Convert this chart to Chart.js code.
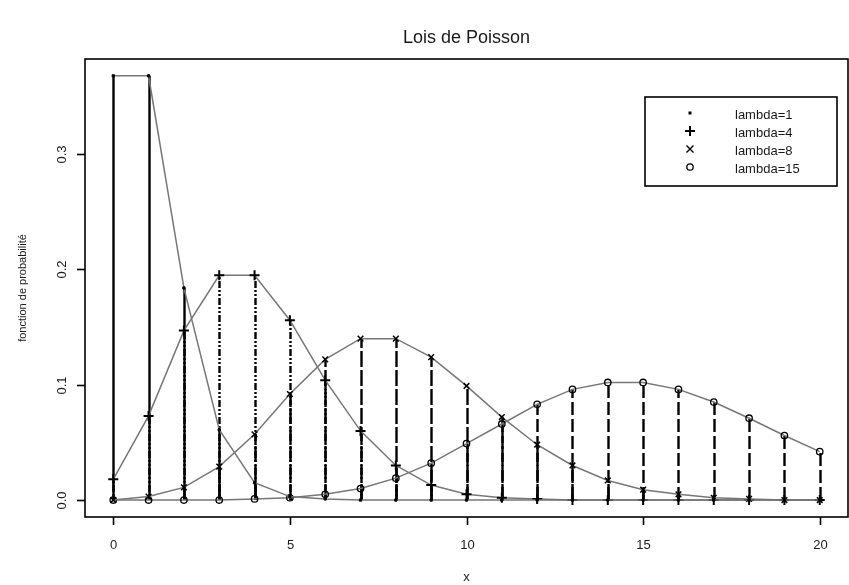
<!DOCTYPE html>
<html lang="fr">
<head>
<meta charset="UTF-8">
<title>Lois de Poisson</title>
<script src="https://cdn.jsdelivr.net/npm/chart.js"></script>
<style>
  html, body { margin: 0; padding: 0; background: #fff; overflow: hidden; }
  #wrap { width: 849px; height: 585px; position: relative; }
  #poisson { display: block; }
</style>
</head>
<body>
<div id="wrap"><canvas id="poisson"></canvas></div>
<script>
// values, x = 0..20
const xs = [0, 1, 2, 3, 4, 5, 6, 7, 8, 9, 10, 11, 12, 13, 14, 15, 16, 17, 18, 19, 20];
const lambda1 = [0.368, 0.368, 0.184, 0.061, 0.015, 0.003, 0.001, 0, 0, 0, 0, 0, 0, 0, 0, 0, 0, 0, 0, 0, 0];
const lambda4 = [0.018, 0.073, 0.147, 0.195, 0.195, 0.156, 0.104, 0.060, 0.030, 0.013, 0.005, 0.002, 0.001, 0, 0, 0, 0, 0, 0, 0, 0];
const lambda8 = [0.000, 0.003, 0.011, 0.029, 0.057, 0.092, 0.122, 0.140, 0.140, 0.124, 0.099, 0.072, 0.048, 0.030, 0.017, 0.009, 0.005, 0.002, 0.001, 0.000, 0.000];
const lambda15 = [0.000, 0.000, 0.000, 0.000, 0.001, 0.002, 0.005, 0.010, 0.019, 0.032, 0.049, 0.066, 0.083, 0.096, 0.102, 0.102, 0.096, 0.085, 0.071, 0.056, 0.042];
const seriesLabels = ['lambda=1', 'lambda=4', 'lambda=8', 'lambda=15'];
const xTicks = [0, 5, 10, 15, 20];
const yTicks = [0, 0.1, 0.2, 0.3];
const yTickLabels = ['0.0', '0.1', '0.2', '0.3'];

const FONT = '"Liberation Sans", Arial, sans-serif';
const TXT = '#1a1a1a';

function pts(vals) {
  return xs.map((x, i) => ({ x: x, y: vals[i] }));
}

// marker styles, same as R pch ".", "+", "x", "o"
const markers = [
  { pointStyle: 'rect', pointRadius: 1.6, pointBorderWidth: 1, pointBackgroundColor: '#000' },
  { pointStyle: 'cross', pointRadius: 5, pointBorderWidth: 2, pointBackgroundColor: '#000' },
  { pointStyle: 'crossRot', pointRadius: 4, pointBorderWidth: 1.5, pointBackgroundColor: '#000' },
  { pointStyle: 'circle', pointRadius: 3.2, pointBorderWidth: 1.3, pointBackgroundColor: 'rgba(255,255,255,0)' }
];
// vertical spike dashes (type = "h")
const spikeDash = [[], [2, 2, 2, 2, 7, 2], [16, 3], [13, 4]];

const allSeries = [lambda1, lambda4, lambda8, lambda15];

const datasets = allSeries.map((vals, i) => Object.assign({
  label: seriesLabels[i],
  data: pts(vals),
  borderColor: '#777',
  borderWidth: 1.5,
  pointBorderColor: '#000',
  tension: 0,
  spikeDash: spikeDash[i]
}, markers[i]));

// vertical lines from 0 to each value
const spikes = {
  id: 'spikes',
  beforeDatasetsDraw(chart) {
    const ctx = chart.ctx;
    const xs_ = chart.scales.x, ys_ = chart.scales.y;
    const y0 = ys_.getPixelForValue(0);
    ctx.save();
    ctx.strokeStyle = '#000';
    ctx.lineWidth = 2.4;
    chart.data.datasets.forEach(ds => {
      ctx.setLineDash(ds.spikeDash);
      ds.data.forEach(p => {
        const px = Math.round(xs_.getPixelForValue(p.x)) + 0.5;
        ctx.beginPath();
        ctx.moveTo(px, y0);
        ctx.lineTo(px, ys_.getPixelForValue(p.y));
        ctx.stroke();
      });
    });
    ctx.restore();
  }
};

function drawMarker(ctx, i, x, y) {
  ctx.save();
  ctx.strokeStyle = '#000';
  ctx.fillStyle = '#000';
  ctx.beginPath();
  if (i === 0) {
    ctx.fillRect(x - 1.5, y - 1.5, 3, 3);
  } else if (i === 1) {
    ctx.lineWidth = 2;
    ctx.moveTo(x - 5, y); ctx.lineTo(x + 5, y);
    ctx.moveTo(x, y - 5); ctx.lineTo(x, y + 5);
    ctx.stroke();
  } else if (i === 2) {
    ctx.lineWidth = 1.4;
    ctx.moveTo(x - 3.5, y - 3.5); ctx.lineTo(x + 3.5, y + 3.5);
    ctx.moveTo(x - 3.5, y + 3.5); ctx.lineTo(x + 3.5, y - 3.5);
    ctx.stroke();
  } else {
    ctx.lineWidth = 1.3;
    ctx.arc(x, y, 3.2, 0, Math.PI * 2);
    ctx.stroke();
  }
  ctx.restore();
}

// R style frame, ticks, labels, title and legend
const rFrame = {
  id: 'rFrame',
  afterDraw(chart) {
    const ctx = chart.ctx;
    const a = chart.chartArea;
    const sx = chart.scales.x, sy = chart.scales.y;
    ctx.save();
    ctx.strokeStyle = '#000';
    ctx.lineWidth = 1.6;
    ctx.strokeRect(a.left, a.top, a.right - a.left, a.bottom - a.top);

    ctx.fillStyle = TXT;
    ctx.font = '13px ' + FONT;
    // x axis
    ctx.textAlign = 'center';
    ctx.textBaseline = 'middle';
    xTicks.forEach(t => {
      const px = Math.round(sx.getPixelForValue(t)) + 0.5;
      ctx.beginPath();
      ctx.moveTo(px, a.bottom);
      ctx.lineTo(px, a.bottom + 8);
      ctx.stroke();
      ctx.fillText(String(t), px, a.bottom + 28);
    });
    ctx.fillText('x', (a.left + a.right) / 2, a.bottom + 60);
    // y axis
    yTicks.forEach((t, i) => {
      const py = Math.round(sy.getPixelForValue(t)) + 0.5;
      ctx.beginPath();
      ctx.moveTo(a.left, py);
      ctx.lineTo(a.left - 8, py);
      ctx.stroke();
      ctx.save();
      ctx.translate(a.left - 23, py);
      ctx.rotate(-Math.PI / 2);
      ctx.fillText(yTickLabels[i], 0, 0);
      ctx.restore();
    });
    ctx.save();
    ctx.font = '11px ' + FONT;
    ctx.translate(a.left - 62, (a.top + a.bottom) / 2);
    ctx.rotate(-Math.PI / 2);
    ctx.fillText('fonction de probabilité', 0, 0);
    ctx.restore();
    // title
    ctx.font = '18px ' + FONT;
    ctx.fillText('Lois de Poisson', (a.left + a.right) / 2, 38);

    // legend
    const lx = 645, ly = 97, lw = 192, lh = 89;
    ctx.fillStyle = '#fff';
    ctx.fillRect(lx, ly, lw, lh);
    ctx.lineWidth = 1.6;
    ctx.strokeRect(lx, ly, lw, lh);
    ctx.font = '13px ' + FONT;
    ctx.textAlign = 'left';
    ctx.fillStyle = TXT;
    seriesLabels.forEach((lab, i) => {
      const ry = ly + 18 + i * 18;
      drawMarker(ctx, i, lx + 45, ry - 2);
      ctx.fillText(lab, lx + 90, ry);
    });
    ctx.restore();
  }
};

new Chart(document.getElementById('poisson'), {
  type: 'line',
  data: { datasets: datasets },
  options: {
    responsive: true,
    maintainAspectRatio: false,
    animation: false,
    layout: { autoPadding: false, padding: { left: 85, top: 59, right: 1, bottom: 68 } },
    scales: {
      x: { type: 'linear', min: -0.8, max: 20.8, display: false },
      y: { type: 'linear', min: -0.0147, max: 0.3826, display: false }
    },
    plugins: {
      legend: { display: false },
      tooltip: { enabled: false }
    }
  },
  plugins: [spikes, rFrame]
});
</script>
</body>
</html>
